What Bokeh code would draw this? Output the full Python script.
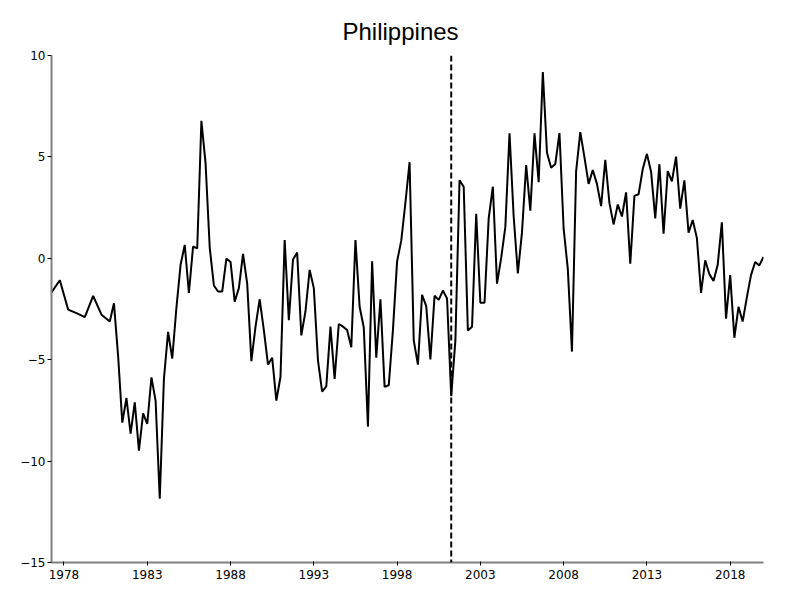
from bokeh.plotting import figure
from bokeh.models import FixedTicker, Span, Range1d
from bokeh.embed import file_html
from bokeh.resources import INLINE

title_text = "Philippines"

# decimal years of each observation
dates = [1977.25, 1977.75, 1978.25, 1978.75, 1979.25, 1979.75, 1980.25, 1980.75,
         1981.0, 1981.25, 1981.5, 1981.75, 1982.0, 1982.25, 1982.5, 1982.75,
         1983.0, 1983.25, 1983.5, 1983.75, 1984.0, 1984.25, 1984.5, 1984.75,
         1985.0, 1985.25, 1985.5, 1985.75, 1986.0, 1986.25, 1986.5, 1986.75,
         1987.0, 1987.25, 1987.5, 1987.75, 1988.0, 1988.25, 1988.5, 1988.75,
         1989.0, 1989.25, 1989.5, 1989.75, 1990.0, 1990.25, 1990.5, 1990.75,
         1991.0, 1991.25, 1991.5, 1991.75, 1992.0, 1992.25, 1992.5, 1992.75,
         1993.0, 1993.25, 1993.5, 1993.75, 1994.0, 1994.25, 1994.5, 1994.75,
         1995.0, 1995.25, 1995.5, 1995.75, 1996.0, 1996.25, 1996.5, 1996.75,
         1997.0, 1997.25, 1997.5, 1997.75, 1998.0, 1998.25, 1998.5, 1998.75,
         1999.0, 1999.25, 1999.5, 1999.75, 2000.0, 2000.25, 2000.5, 2000.75,
         2001.0, 2001.25, 2001.5, 2001.75, 2002.0, 2002.25, 2002.5, 2002.75,
         2003.0, 2003.25, 2003.5, 2003.75, 2004.0, 2004.25, 2004.5, 2004.75,
         2005.0, 2005.25, 2005.5, 2005.75, 2006.0, 2006.25, 2006.5, 2006.75,
         2007.0, 2007.25, 2007.5, 2007.75, 2008.0, 2008.25, 2008.5, 2008.75,
         2009.0, 2009.25, 2009.5, 2009.75, 2010.0, 2010.25, 2010.5, 2010.75,
         2011.0, 2011.25, 2011.5, 2011.75, 2012.0, 2012.25, 2012.5, 2012.75,
         2013.0, 2013.25, 2013.5, 2013.75, 2014.0, 2014.25, 2014.5, 2014.75,
         2015.0, 2015.25, 2015.5, 2015.75, 2016.0, 2016.25, 2016.5, 2016.75,
         2017.0, 2017.25, 2017.5, 2017.75, 2018.0, 2018.25, 2018.5, 2018.75,
         2019.0, 2019.25, 2019.5, 2019.75, 2020.0]

values = [-1.68, -1.08, -2.53, -2.70, -2.90, -1.85, -2.78, -3.12,
          -2.22, -4.82, -8.10, -6.89, -8.64, -7.10, -9.48, -7.65,
          -8.16, -5.87, -7.02, -11.86, -5.95, -3.63, -4.94, -2.44,
          -0.32, 0.66, -1.71, 0.58, 0.49, 6.78, 4.69, 0.53,
          -1.34, -1.64, -1.64, -0.01, -0.18, -2.14, -1.47, 0.22,
          -1.25, -5.07, -3.37, -2.02, -3.54, -5.24, -4.90, -7.02,
          -5.84, 0.90, -3.05, -0.06, 0.28, -3.80, -2.61, -0.57,
          -1.47, -5.04, -6.57, -6.31, -3.37, -5.95, -3.24, -3.37,
          -3.54, -4.39, 0.90, -2.39, -3.41, -8.30, -0.15, -4.90,
          -2.02, -6.34, -6.26, -3.54, -0.15, 0.87, 2.74, 4.74,
          -4.05, -5.24, -1.80, -2.36, -4.99, -1.85, -2.05, -1.59,
          -1.98, -6.80, -4.05, 3.85, 3.53, -3.56, -3.37, 2.20,
          -2.19, -2.19, 1.97, 3.53, -1.25, 0.02, 1.55, 6.16,
          2.06, -0.74, 1.29, 4.60, 2.35, 6.16, 3.75, 9.19,
          5.20, 4.47, 4.65, 6.18, 1.46, -0.52, -4.60, 4.30,
          6.22, 4.98, 3.67, 4.35, 3.67, 2.57, 4.86, 2.72,
          1.67, 2.65, 2.06, 3.25, -0.27, 3.08, 3.16, 4.40,
          5.15, 4.27, 1.97, 4.64, 1.21, 4.30, 3.79, 5.01,
          2.45, 3.84, 1.26, 1.89, 1.00, -1.71, -0.10, -0.78,
          -1.12, -0.32, 1.77, -2.98, -0.83, -3.92, -2.39, -3.12,
          -1.93, -0.83, -0.18, -0.35, 0.07]

break_date = 2001.25
x_ticks = [1978, 1983, 1988, 1993, 1998, 2003, 2008, 2013, 2018]
y_ticks = [-15, -10, -5, 0, 5, 10]

p = figure(width=792, height=592, output_backend="svg", toolbar_location=None,
           x_range=Range1d(1977.25, 2020.0), y_range=Range1d(-15, 10),
           min_border_left=51, min_border_right=29, min_border_top=55, min_border_bottom=30)

p.title.text = title_text
p.title.align = "left"
p.title.offset = 291
p.title.standoff = 22
p.title.text_font = "Liberation Sans"
p.title.text_font_size = "24px"
p.title.text_font_style = "normal"
p.title.text_color = "#000000"

p.outline_line_color = None
p.xgrid.visible = False
p.ygrid.visible = False

for ax in (p.xaxis[0], p.yaxis[0]):
    ax.axis_line_color = "#808080"
    ax.axis_line_width = 2
    ax.major_tick_line_color = "#000000"
    ax.major_tick_line_width = 1
    ax.minor_tick_line_color = None
    ax.major_label_text_font = "DejaVu Sans"
    ax.major_label_text_font_size = "12px"
    ax.major_label_text_color = "#000000"

p.xaxis.ticker = FixedTicker(ticks=x_ticks)
p.yaxis.ticker = FixedTicker(ticks=y_ticks)
p.xaxis.major_tick_out = 3
p.xaxis.major_tick_in = 1
p.yaxis.major_tick_out = 4
p.yaxis.major_tick_in = 0
p.xaxis.major_label_standoff = 4
p.yaxis.major_label_standoff = 2

p.line(dates, values, line_color="#000000", line_width=2)

p.add_layout(Span(location=break_date, dimension="height", line_color="#000000",
                  line_width=2, line_dash="6 3"))

open("out.html", "w").write(file_html(p, INLINE))
